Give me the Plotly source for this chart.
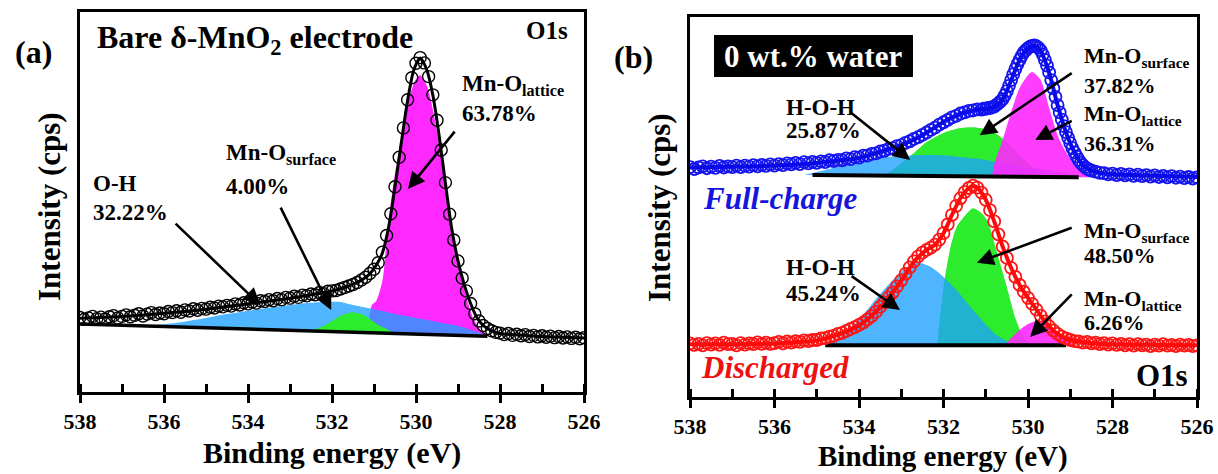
import numpy as np
import plotly.graph_objects as go

W, H = 1218, 474
FONT = "Liberation Serif, Times New Roman, serif"

# ---------------- panel (a): bare delta-MnO2, O1s ----------------
# raw data (circles), 538.0 -> 526.0 eV in 0.1 eV steps
a_data_y = [19.6, 19.1, 19.5, 19.9, 19.3, 19.7, 19.2, 19.8, 20.1, 19.5,
            19.9, 20.3, 19.8, 20.2, 20.6, 20.0, 20.5, 20.9, 20.4, 20.8,
            20.6, 21.2, 20.9, 21.4, 21.0, 21.6, 21.3, 21.9, 21.5, 22.0,
            21.8, 22.3, 22.1, 22.6, 22.4, 22.8, 22.6, 23.2, 22.9, 23.5,
            23.2, 23.7, 23.4, 24.0, 23.8, 24.3, 24.0, 24.6, 24.3, 24.9,
            24.7, 25.2, 24.9, 25.5, 25.3, 25.8, 25.6, 26.2, 25.9, 26.5,
            26.6, 26.7, 27.1, 27.5, 27.9, 28.3, 28.8, 29.5, 30.2, 31.2,
            32.3, 34.0, 36.8, 41.2, 46.9, 54.0, 61.8, 69.5, 76.9, 82.7,
            86.5, 88.0, 86.6, 83.0, 78.2, 71.5, 63.7, 55.1, 46.8, 40.0,
            34.5, 30.0, 26.6, 23.3, 20.6, 18.7, 17.5, 16.7, 16.1, 15.7,
            15.5, 15.1, 15.4, 14.9, 15.2, 14.8, 15.1, 14.6, 14.9, 14.5,
            14.8, 14.4, 14.7, 14.3, 14.6, 14.2, 14.5, 14.1, 14.4, 14.0, 14.3]

a_fit_x = [538, 537, 536, 535, 534, 533, 532.5, 532, 531.6, 531.3, 531.1, 530.95,
           530.8, 530.65, 530.5, 530.35, 530.2, 530.05, 529.9, 529.75, 529.6, 529.45,
           529.3, 529.15, 529.0, 528.85, 528.7, 528.55, 528.4, 528.2, 528.0, 527.5,
           527, 526.5, 526]
a_fit_y = [19.4, 19.9, 20.7, 21.8, 23.2, 24.7, 25.6, 26.6, 27.9, 29.4, 31.1, 33.3,
           36.6, 43.5, 54.0, 65.6, 76.7, 84.8, 87.9, 85.0, 78.2, 67.5,
           55.0, 43.0, 34.5, 28.2, 23.3, 19.6, 17.5, 16.1, 15.4, 15.0,
           14.6, 14.4, 14.2]
a_base_x = [538.0, 528.3]
a_base_y = [17.9, 14.7]

a_oh_x = [536.5, 536.0, 535.7, 535.0, 534.5, 534.0, 533.5, 533.0, 532.6, 532.2, 531.8,
          531.5, 531.15, 530.8, 530.4, 530.0, 529.7, 529.3, 529.0, 528.7, 528.5, 528.3]
a_oh_y = [17.4, 17.8, 18.2, 19.5, 20.5, 21.4, 22.2, 22.9, 23.4, 23.7, 23.7,
          22.9, 22.1, 21.3, 20.3, 19.5, 18.9, 18.0, 17.4, 16.4, 15.6, 14.7]
a_lat_x = [531.15, 531.05, 530.95, 530.8, 530.7, 530.55, 530.36, 530.18, 530.0, 529.9,
           529.73, 529.55, 529.36, 529.18, 529.0, 528.82, 528.64, 528.45, 528.3]
a_lat_y = [15.6, 22.9, 23.9, 29.2, 39.7, 53.9, 66.3, 76.8, 82.4, 83.4,
           80.3, 71.6, 59.2, 46.1, 34.5, 25.8, 19.5, 16.1, 14.7]
a_sur_x = [532.5, 532.2, 532.0, 531.8, 531.6, 531.48, 531.3, 531.1, 530.9, 530.7, 530.5]
a_sur_y = [16.1, 17.4, 18.7, 20.0, 20.8, 20.9, 20.5, 19.2, 17.6, 16.6, 15.4]

# ---------------- panel (b): 0 wt.% water ----------------
fc_seg1_y = [60.5, 60.0, 60.4, 60.7, 60.2, 60.6, 60.3, 60.8, 60.4, 60.7,
             60.5, 60.9, 60.5, 60.9, 60.6, 61.0, 60.7, 61.1, 60.8, 61.2,
             60.9, 61.3, 61.0, 61.5, 61.2, 61.6, 61.3, 61.8, 61.5, 61.9,
             61.6, 62.0, 61.8, 62.3, 62.1, 62.4, 62.3, 62.8, 62.6, 63.1,
             63.0, 63.5, 63.5, 64.0, 64.1, 64.6, 64.8, 65.3, 65.5, 66.0,
             66.3, 66.9, 67.3, 67.9, 68.4, 69.0, 69.6, 70.3, 70.9, 71.7,
             72.3, 72.9, 73.6, 74.0, 74.6, 74.9, 75.3, 75.4, 75.7, 75.6]  # 538.0 -> 531.1 (0.1)
fc_seg2_y = [75.9, 75.8, 76.1, 76.0, 76.3, 76.4, 76.9, 77.3, 77.8, 78.4,
             79.4, 80.5, 81.9, 83.4, 84.9, 86.3, 87.6, 88.7, 89.8, 90.7,
             91.3, 91.8, 92.2, 92.4, 92.5, 92.3, 91.9, 91.2, 90.1, 88.7,
             87.2, 85.4, 83.4, 81.2, 79.0, 76.8, 74.9, 73.0, 71.3, 69.7,
             68.2, 66.8, 65.5, 64.4, 63.3, 62.4, 61.6, 61.0, 60.5, 60.1,
             59.8, 59.6]   # 531.05 -> 528.50 (0.05)
fc_seg3_y = [59.3, 59.0, 58.9, 58.6, 58.8, 58.4, 58.7, 58.3, 58.6, 58.2,
             58.5, 58.1, 58.4, 58.0, 58.3, 57.9, 58.2, 57.8, 58.1, 57.7,
             58.0, 57.6, 57.9, 57.5, 57.8]   # 528.4 -> 526.0 (0.1)
fc_fit_x = [538, 537, 536, 535, 534.5, 534, 533.5, 533, 532.5, 532, 531.6, 531.3, 531.0,
            530.8, 530.6, 530.4, 530.2, 530.0, 529.85, 529.7, 529.5, 529.3, 529.1, 528.9,
            528.7, 528.5, 528.2, 528, 527, 526]
fc_fit_y = [60.4, 60.6, 60.9, 61.6, 62.2, 62.9, 64.5, 66.3, 68.9, 72.4, 74.5, 75.4, 75.8,
            76.3, 78.3, 83.3, 88.6, 91.8, 92.4, 91.1, 85.3, 76.8, 69.6, 64.4,
            61.0, 59.6, 58.8, 58.6, 58.2, 57.9]
fc_base_x = [535.1, 528.8]
fc_base_y = [58.4, 57.8]
fc_hoh_x = [535.3, 535.0, 534.5, 534.0, 533.5, 533.0, 532.5, 532.0, 531.5, 531.0, 530.5,
            530.0, 529.5, 529.0, 528.6]
fc_hoh_y = [58.4, 59.2, 60.5, 61.8, 62.9, 63.4, 63.7, 63.6, 63.0, 62.4, 61.3,
            60.5, 59.7, 58.7, 57.8]
fc_sur_x = [533.4, 533.0, 532.7, 532.4, 532.0, 531.6, 531.3, 531.0, 530.7, 530.4, 530.1,
            529.8, 529.5]
fc_sur_y = [58.2, 61.5, 64.2, 67.1, 69.5, 70.8, 71.0, 70.5, 68.9, 66.0, 62.6, 59.7, 57.9]
fc_lat_x = [530.85, 530.8, 530.6, 530.4, 530.2, 530.0, 529.9, 529.7, 529.5, 529.3, 529.1,
            528.9, 528.7, 528.5]
fc_lat_y = [58.0, 61.1, 67.6, 75.0, 81.3, 84.7, 85.5, 83.4, 76.1, 68.9, 64.5, 61.1, 58.9, 57.8]

dc_data_y = [14.1, 13.7, 14.0, 13.6, 14.2, 13.8, 14.1, 13.7, 14.3, 13.9,
             14.0, 13.6, 14.2, 13.8, 14.1, 13.9, 14.4, 14.0, 14.3, 14.0,
             14.2, 14.5, 14.1, 14.6, 14.3, 14.7, 14.5, 14.9, 14.7, 15.0,
             15.0, 15.4, 15.5, 15.9, 16.1, 16.6, 16.9, 17.4, 17.9, 18.4,
             19.0, 19.6, 20.4, 21.3, 22.4, 23.7, 24.9, 26.2, 27.5, 29.1,
             30.7, 32.4, 34.1, 35.7, 37.0, 38.0, 38.7, 39.3, 40.1, 41.4,
             43.1, 45.4, 47.9, 50.3, 52.3, 53.9, 55.0, 55.6, 55.1, 53.8,
             51.9, 49.2, 46.2, 42.8, 39.6, 36.6, 34.0, 31.6, 29.5, 27.7,
             26.1, 24.5, 23.0, 21.4, 19.9, 18.6, 17.5, 16.6, 15.9, 15.4,
             15.0, 14.7, 14.6, 14.3, 14.5, 14.1, 14.3, 13.9, 14.2, 13.8,
             14.1, 13.7, 14.0, 13.6, 13.9, 13.5, 13.9, 13.6, 13.8, 13.4,
             13.8, 13.5, 13.9, 13.5, 13.7, 13.4, 13.8, 13.5, 13.7, 13.4, 13.6]  # 538.0 -> 526.0 (0.1)
dc_fit_x = [538, 537, 536, 535.5, 535, 534.5, 534, 533.5, 533, 532.7, 532.4, 532.2, 532,
            531.8, 531.6, 531.4, 531.3, 531.2, 531, 530.8, 530.6, 530.4, 530.2, 530,
            529.8, 529.6, 529.4, 529.2, 529, 528.6, 528, 527, 526]
dc_fit_y = [13.9, 13.9, 14.1, 14.4, 14.9, 16.4, 18.8, 23.6, 30.6, 35.6, 38.7, 40.1, 43.1,
            47.9, 52.3, 55.0, 55.5, 55.1, 51.9, 46.2, 39.6, 34.0, 29.5, 26.1,
            23.0, 19.9, 17.5, 15.9, 15.0, 14.3, 13.9, 13.7, 13.6]
dc_base_x = [534.8, 529.1]
dc_base_y = [13.6, 13.6]
dc_hoh_x = [534.8, 534.4, 534.0, 533.6, 533.2, 532.9, 532.6, 532.3, 532.0, 531.7, 531.4,
            531.1, 530.8, 530.5, 530.2]
dc_hoh_y = [13.6, 16.1, 20.3, 25.8, 30.8, 33.9, 35.3, 34.2, 31.6, 28.2, 24.2,
            20.3, 16.8, 14.7, 13.6]
dc_sur_x = [532.15, 532.0, 531.85, 531.7, 531.5, 531.3, 531.1, 530.95, 530.75, 530.5,
            530.3, 530.1, 529.9]
dc_sur_y = [13.6, 28.9, 38.7, 44.5, 47.6, 49.7, 48.4, 46.1, 38.7, 28.9, 20.8, 15.5, 13.6]
dc_lat_x = [530.55, 530.4, 530.2, 530.0, 529.8, 529.6, 529.4, 529.2, 529.0, 528.85]
dc_lat_y = [13.6, 15.5, 17.6, 19.2, 20.0, 19.5, 18.2, 16.1, 14.5, 13.6]

tick_vals = [538, 536, 534, 532, 530, 528, 526]
tick_text = ["538", "536", "534", "532", "530", "528", "526"]


def grid(start, step, n):
    return list(np.round(start - step * np.arange(n), 2))


a_x = grid(538.0, 0.1, len(a_data_y))
a_y = a_data_y
fc_x = grid(538.0, 0.1, len(fc_seg1_y)) + grid(531.05, 0.05, len(fc_seg2_y)) + grid(528.4, 0.1, len(fc_seg3_y))
fc_y = fc_seg1_y + fc_seg2_y + fc_seg3_y
dc_x = grid(538.0, 0.1, len(dc_data_y))
dc_y = dc_data_y

C_BLUE = "rgba(30,160,255,0.78)"
C_GREEN = "rgba(45,235,45,1)"
C_MAG = "rgba(255,40,255,0.9)"

fig = go.Figure()


def comp(x, y, color, xa, ya):
    fig.add_trace(go.Scatter(x=x, y=y, mode="lines", fill="toself", fillcolor=color,
                             line=dict(width=0, shape="spline", smoothing=0.7),
                             xaxis=xa, yaxis=ya, hoverinfo="skip", showlegend=False))


def line(x, y, color, width, xa, ya, shape="linear"):
    fig.add_trace(go.Scatter(x=x, y=y, mode="lines",
                             line=dict(color=color, width=width, shape=shape, smoothing=0.8),
                             xaxis=xa, yaxis=ya, showlegend=False))


def pts(x, y, color, xa, ya, size=11, lw=1.4):
    fig.add_trace(go.Scatter(x=x, y=y, mode="markers",
                             marker=dict(symbol="circle-open", size=size, color=color,
                                         line=dict(width=lw, color=color)),
                             xaxis=xa, yaxis=ya, showlegend=False))


# panel (a)
comp(a_lat_x, a_lat_y, "rgb(255,40,255)", "x", "y")
comp(a_oh_x, a_oh_y, C_BLUE, "x", "y")
comp(a_sur_x, a_sur_y, C_GREEN, "x", "y")
line(a_base_x, a_base_y, "black", 3.5, "x", "y")
pts(a_x, a_y, "black", "x", "y", size=12, lw=1.4)
line(a_fit_x, a_fit_y, "black", 3, "x", "y", shape="spline")

# panel (b) full-charge
comp(fc_sur_x, fc_sur_y, C_GREEN, "x2", "y2")
comp(fc_hoh_x, fc_hoh_y, C_BLUE, "x2", "y2")
comp(fc_lat_x, fc_lat_y, C_MAG, "x2", "y2")
line(fc_base_x, fc_base_y, "black", 4, "x2", "y2")
pts(fc_x, fc_y, "#1414F0", "x2", "y2", size=12, lw=1.8)
line(fc_fit_x, fc_fit_y, "#0A0AE8", 4, "x2", "y2", shape="spline")

# panel (b) discharged
comp(dc_sur_x, dc_sur_y, C_GREEN, "x2", "y2")
comp(dc_hoh_x, dc_hoh_y, C_BLUE, "x2", "y2")
comp(dc_lat_x, dc_lat_y, C_MAG, "x2", "y2")
line(dc_base_x, dc_base_y, "black", 4, "x2", "y2")
pts(dc_x, dc_y, "#FF1414", "x2", "y2", size=12, lw=1.8)
line(dc_fit_x, dc_fit_y, "#FF0A0A", 4, "x2", "y2", shape="spline")


# axes
def px(x):
    return x / W


def py(y):
    return 1 - y / H


xcommon = dict(range=[538, 526], tickvals=tick_vals, ticktext=tick_text, showline=True,
               linecolor="black", linewidth=3, mirror=True, ticks="outside", ticklen=8,
               tickwidth=3, tickcolor="black", showgrid=False, zeroline=False, automargin=False,
               tickfont=dict(family=FONT, size=22, color="black", weight="bold"),
               minor=dict(ticks="inside", ticklen=8, tickwidth=3, tickcolor="black",
                          dtick=1, showgrid=False))
ycommon = dict(range=[0, 100], showline=True, linecolor="black", linewidth=3, mirror=True,
               ticks="", showticklabels=False, showgrid=False, zeroline=False, automargin=False)

fig.update_layout(
    width=W, height=H, autosize=False, margin=dict(l=0, r=0, t=0, b=0, pad=0),
    paper_bgcolor="white", plot_bgcolor="white", showlegend=False,
    xaxis=dict(domain=[px(80), px(584)], anchor="y", **xcommon),
    yaxis=dict(domain=[py(392), py(12)], anchor="x", **ycommon),
    xaxis2=dict(domain=[px(690), px(1197)], anchor="y2", **xcommon),
    yaxis2=dict(domain=[py(397), py(17)], anchor="x2", **ycommon),
)

ann = []


def text(xp, yp, s, size, xanchor="left", color="black", angle=0, italic=False, yanchor="middle"):
    ann.append(dict(x=px(xp), y=py(yp), xref="paper", yref="paper", text=s, showarrow=False,
                    xanchor=xanchor, yanchor=yanchor, textangle=angle, borderpad=0,
                    font=dict(family=FONT, size=size, color=color, weight="bold",
                              style="italic" if italic else "normal")))


def arrow(xa, ya, tx, ty, hx, hy):
    ann.append(dict(x=hx, y=hy, ax=tx, ay=ty, xref=xa, yref=ya, axref=xa, ayref=ya,
                    showarrow=True, arrowhead=2, arrowsize=1.3, arrowwidth=2.6,
                    arrowcolor="black", text=""))


# (a) texts
text(33, 52, "(a)", 32, "center")
text(96, 40, "Bare δ-MnO<sub>2</sub> electrode", 32)
text(547, 30, "O1s", 25, "center")
text(461, 85, "Mn-O<sub>lattice</sub>", 23)
text(461, 114, "63.78%", 23)
text(225, 154, "Mn-O<sub>surface</sub>", 23)
text(225, 187, "4.00%", 23)
text(92, 184, "O-H", 23)
text(92, 212, "32.22%", 23)
text(49, 207, "Intensity (cps)", 31, "center", angle=-90)
text(332, 453, "Binding energy (eV)", 30, "center")
arrow("x", "y", 529.05, 68.9, 530.19, 53.4)
arrow("x", "y", 533.24, 48.9, 532.02, 21.6)
arrow("x", "y", 535.76, 44.7, 533.71, 22.9)

# (b) texts
text(633, 57, "(b)", 32, "center")
text(813, 56, "0 wt.% water", 31, "center", color="white")
text(785, 107, "H-O-H", 23)
text(785, 130, "25.87%", 23)
text(1083, 57, "Mn-O<sub>surface</sub>", 22)
text(1083, 85, "37.82%", 22)
text(1083, 115, "Mn-O<sub>lattice</sub>", 22)
text(1083, 143, "36.31%", 22)
text(702, 198, "Full-charge", 31, color="#1515DD", italic=True)
text(785, 267, "H-O-H", 23)
text(785, 293, "45.24%", 23)
text(1083, 232, "Mn-O<sub>surface</sub>", 22)
text(1083, 255, "48.50%", 22)
text(1083, 300, "Mn-O<sub>lattice</sub>", 22)
text(1083, 322, "6.26%", 22)
text(700, 367, "Discharged", 31, color="#EE1111", italic=True)
text(1162, 375, "O1s", 31, "center")
text(659, 207, "Intensity (cps)", 31, "center", angle=-90)
text(943, 474, "Binding energy (eV)", 29, "center", yanchor="bottom")
arrow("x2", "y2", 534.21, 75.0, 532.79, 62.4)
arrow("x2", "y2", 528.93, 85.5, 531.14, 68.9)
arrow("x2", "y2", 528.93, 72.9, 529.83, 67.6)
arrow("x2", "y2", 534.21, 32.1, 533.03, 22.9)
arrow("x2", "y2", 528.93, 44.7, 531.21, 35.3)
arrow("x2", "y2", 528.93, 27.4, 529.95, 15.8)

fig.update_layout(annotations=ann,
                  shapes=[dict(type="rect", xref="paper", yref="paper", x0=px(714), x1=px(913),
                               y0=py(77), y1=py(35), fillcolor="black", line=dict(width=0),
                               layer="above")])

fig.write_html("out.html", config={"displayModeBar": False, "responsive": False},
               post_script="document.body.style.margin='0';document.body.style.overflow='hidden';")
